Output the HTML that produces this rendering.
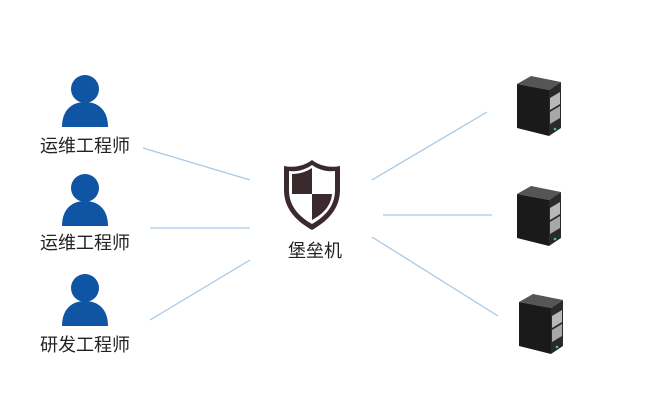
<!DOCTYPE html>
<html><head><meta charset="utf-8"><style>
html,body{margin:0;padding:0;background:#fff;}
svg{display:block}
text{font-family:"Liberation Sans","Noto Sans CJK SC",sans-serif;font-size:18px;fill:#222}
</style></head><body>
<svg width="657" height="405" viewBox="0 0 657 405" xmlns="http://www.w3.org/2000/svg">
<defs>
<g id="p">
<circle cx="0" cy="0" r="14" fill="#1054a4"/>
<path d="M-23,38 C-23,20 -12,13 0,13 C12,13 23,20 23,38 Z" fill="#1054a4"/>
</g>
<g id="s">
<polygon points="0,8 14,0 44,6 32,14" fill="#555"/>
<polygon points="0,8 32,14 32,60 0,52" fill="#1a1a1a"/>
<polygon points="32,14 44,6 44,52 32,60" fill="#2a2a2a"/>
<polygon points="33,22 43,16 43,28 33,34" fill="#b8b8b8"/>
<polygon points="33,36 43,30 43,42 33,48" fill="#a8a8a8"/>
<circle cx="38" cy="53" r="1.3" fill="#3c9"/>
</g>
</defs>
<g stroke="#a8c9e6" stroke-width="1.3">
<line x1="143" y1="148" x2="250" y2="180"/>
<line x1="150" y1="228" x2="250" y2="228"/>
<line x1="150" y1="320" x2="250" y2="260"/>
<line x1="372" y1="180" x2="487" y2="112"/>
<line x1="383" y1="215" x2="492" y2="215"/>
<line x1="372" y1="237" x2="498" y2="316"/>
</g>
<use href="#p" x="85" y="89"/>
<use href="#p" x="85" y="188"/>
<use href="#p" x="85" y="288"/>
<text x="40" y="152">运维工程师</text>
<text x="40" y="249">运维工程师</text>
<text x="40" y="351">研发工程师</text>
<g transform="translate(284,160)">
<path d="M28,0 C36,6 46,8 56,6 L56,30 C56,50 42,62 28,70 C14,62 0,50 0,30 L0,6 C10,8 20,6 28,0 Z" fill="#3a2a2e"/>
<path d="M28,5 C35,10 43,12 51,11 L51,30 C51,47 40,57 28,64 C16,57 5,47 5,30 L5,11 C13,12 21,10 28,5 Z" fill="#fff"/>
<path d="M28,8 L28,34 L8,34 L8,14 C15,14 22,12 28,8 Z" fill="#3a2a2e"/>
<path d="M28,34 L48,34 C47,46 39,54 28,60 Z" fill="#3a2a2e"/>
</g>
<text x="288" y="257">堡垒机</text>
<use href="#s" x="517" y="76"/>
<use href="#s" x="517" y="186"/>
<use href="#s" x="519" y="294"/>
</svg>
</body></html>
